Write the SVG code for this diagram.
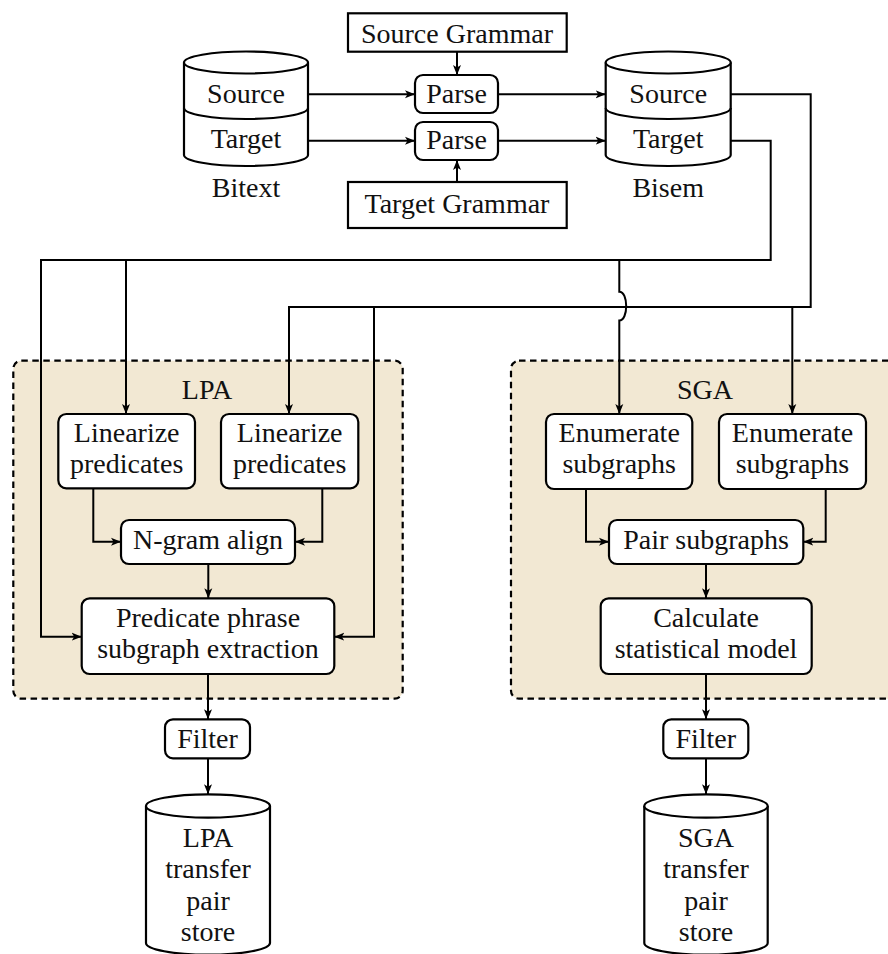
<svg xmlns="http://www.w3.org/2000/svg" width="888" height="954" viewBox="0 0 888 954">
<style>
.box{fill:#fff;stroke:#000;stroke-width:2.2}
.cont{fill:#f2e8d3;stroke:#000;stroke-width:2.2;stroke-dasharray:6.5,4.5}
.cyl{fill:#fff;stroke:#000;stroke-width:2.2}
.line{fill:none;stroke:#000;stroke-width:2}
.arr{marker-end:url(#ah)}
</style>
<defs>
<marker id="ah" markerWidth="11" markerHeight="9" refX="10" refY="4.5" orient="auto" markerUnits="userSpaceOnUse">
<path d="M0,0.5 L10,4.5 L0,8.5 L2.5,4.5 z" fill="#000"/>
</marker>
</defs>
<rect width="888" height="954" fill="#fff"/>
<g font-family="Liberation Serif" font-size="28" text-anchor="middle" fill="#111">

<g id="lpa-container">
<rect class="cont" x="13.3" y="360.7" width="389.4" height="338" rx="8"/>
<text x="207" y="399" style="font-family:'Liberation Serif'">LPA</text>
</g>
<g id="sga-container">
<rect class="cont" x="511" y="360.7" width="400" height="338" rx="8"/>
<text x="705" y="399" style="font-family:'Liberation Serif'">SGA</text>
</g>

<g id="connectors">
<path class="line arr" d="M307.7,94.3 H415"/>
<path class="line arr" d="M307.7,140.7 H415"/>
<path class="line arr" d="M457,52 V75"/>
<path class="line arr" d="M457,182 V160"/>
<path class="line arr" d="M498,94.3 H605.7"/>
<path class="line arr" d="M498,140.7 H605.7"/>
<path class="line arr" d="M730.7,140.7 H770.7 V260 H41 V636.7 H81.7"/>
<path class="line arr" d="M126,260 V414"/>
<path class="line arr" d="M619.3,260 V291.7 C628.5,291.7 628.5,320.5 619.3,320.5 V414"/>
<path class="line arr" d="M730.7,94.3 H810.7 V307 H289 V414"/>
<path class="line arr" d="M374,307 V636.7 H334.3"/>
<path class="line arr" d="M792.3,307 V414"/>
<path class="line arr" d="M93.3,488.3 V541.7 H121"/>
<path class="line arr" d="M322.3,488.3 V541.7 H295"/>
<path class="line arr" d="M208.3,564 V598.3"/>
<path class="line arr" d="M208,674 V719.3"/>
<path class="line arr" d="M208,758.3 V794.3"/>
<path class="line arr" d="M586,489 V541.7 H609"/>
<path class="line arr" d="M825.7,489 V541.7 H803.3"/>
<path class="line arr" d="M706,564 V598.3"/>
<path class="line arr" d="M706,674 V719.3"/>
<path class="line arr" d="M706,758.3 V794.3"/>
</g>

<g id="source-grammar">
<rect class="box" x="348" y="13.3" width="218.7" height="38.4"/>
<text x="457" y="43" style="font-family:'Liberation Serif'">Source Grammar</text>
</g>
<g id="target-grammar">
<rect class="box" x="348" y="182" width="218.7" height="46"/>
<text x="457" y="213" style="font-family:'Liberation Serif'">Target Grammar</text>
</g>
<g id="parse-source">
<rect class="box" x="415" y="75" width="83" height="38" rx="8"/>
<text x="456.5" y="103" style="font-family:'Liberation Serif'">Parse</text>
</g>
<g id="parse-target">
<rect class="box" x="415" y="122" width="83" height="38" rx="8"/>
<text x="456.5" y="149" style="font-family:'Liberation Serif'">Parse</text>
</g>

<g id="bitext">
<path class="cyl" d="M184,62.5 V155 A62,11 0 0 0 308,155 V62.5"/>
<ellipse class="cyl" cx="246" cy="62.5" rx="62" ry="11"/>
<path class="line" style="stroke-width:2.2" d="M184,108 A62,11 0 0 0 308,108"/>
<text x="246" y="103" style="font-family:'Liberation Serif'">Source</text>
<text x="246" y="148" style="font-family:'Liberation Serif'">Target</text>
<text x="246" y="197" style="font-family:'Liberation Serif'">Bitext</text>
</g>
<g id="bisem">
<path class="cyl" d="M605.7,62.5 V155 A62.5,11 0 0 0 730.7,155 V62.5"/>
<ellipse class="cyl" cx="668.2" cy="62.5" rx="62.5" ry="11"/>
<path class="line" style="stroke-width:2.2" d="M605.7,108 A62.5,11 0 0 0 730.7,108"/>
<text x="668.2" y="103" style="font-family:'Liberation Serif'">Source</text>
<text x="668.2" y="148" style="font-family:'Liberation Serif'">Target</text>
<text x="668.2" y="197" style="font-family:'Liberation Serif'">Bisem</text>
</g>

<g id="linearize-1">
<rect class="box" x="58.3" y="414" width="136.7" height="74.3" rx="8"/>
<text x="126.7" y="441.5" style="font-family:'Liberation Serif'">Linearize</text>
<text x="126.7" y="473" style="font-family:'Liberation Serif'">predicates</text>
</g>
<g id="linearize-2">
<rect class="box" x="221" y="414" width="137.3" height="74.3" rx="8"/>
<text x="289.7" y="441.5" style="font-family:'Liberation Serif'">Linearize</text>
<text x="289.7" y="473" style="font-family:'Liberation Serif'">predicates</text>
</g>
<g id="ngram-align">
<rect class="box" x="121" y="520" width="174" height="44" rx="8"/>
<text x="208" y="549" style="font-family:'Liberation Serif'">N-gram align</text>
</g>
<g id="predicate-extraction">
<rect class="box" x="81.7" y="598.3" width="252.6" height="75.7" rx="8"/>
<text x="208" y="627" style="font-family:'Liberation Serif'">Predicate phrase</text>
<text x="208" y="658" style="font-family:'Liberation Serif'">subgraph extraction</text>
</g>
<g id="lpa-filter">
<rect class="box" x="165" y="719.3" width="85" height="39" rx="8"/>
<text x="207.5" y="747.5" style="font-family:'Liberation Serif'">Filter</text>
</g>
<g id="lpa-store">
<path class="cyl" d="M146,806 V943 A62,11.7 0 0 0 270,943 V806"/>
<ellipse class="cyl" cx="208" cy="806" rx="62" ry="11.7"/>
<text x="208" y="847" style="font-family:'Liberation Serif'">LPA</text>
<text x="208" y="878" style="font-family:'Liberation Serif'">transfer</text>
<text x="208" y="909.5" style="font-family:'Liberation Serif'">pair</text>
<text x="208" y="941" style="font-family:'Liberation Serif'">store</text>
</g>

<g id="enumerate-1">
<rect class="box" x="546" y="414" width="146.3" height="75" rx="8"/>
<text x="619.2" y="441.5" style="font-family:'Liberation Serif'">Enumerate</text>
<text x="619.2" y="473" style="font-family:'Liberation Serif'">subgraphs</text>
</g>
<g id="enumerate-2">
<rect class="box" x="719" y="414" width="147" height="75" rx="8"/>
<text x="792.5" y="441.5" style="font-family:'Liberation Serif'">Enumerate</text>
<text x="792.5" y="473" style="font-family:'Liberation Serif'">subgraphs</text>
</g>
<g id="pair-subgraphs">
<rect class="box" x="609" y="520" width="194.3" height="44" rx="8"/>
<text x="706" y="549" style="font-family:'Liberation Serif'">Pair subgraphs</text>
</g>
<g id="calculate-model">
<rect class="box" x="600.7" y="598.3" width="211" height="75.7" rx="8"/>
<text x="706" y="627" style="font-family:'Liberation Serif'">Calculate</text>
<text x="706" y="658" style="font-family:'Liberation Serif'">statistical model</text>
</g>
<g id="sga-filter">
<rect class="box" x="663.3" y="719.3" width="85" height="39" rx="8"/>
<text x="705.8" y="747.5" style="font-family:'Liberation Serif'">Filter</text>
</g>
<g id="sga-store">
<path class="cyl" d="M644.3,806 V943 A61.7,11.7 0 0 0 767.7,943 V806"/>
<ellipse class="cyl" cx="706" cy="806" rx="61.7" ry="11.7"/>
<text x="706" y="847" style="font-family:'Liberation Serif'">SGA</text>
<text x="706" y="878" style="font-family:'Liberation Serif'">transfer</text>
<text x="706" y="909.5" style="font-family:'Liberation Serif'">pair</text>
<text x="706" y="941" style="font-family:'Liberation Serif'">store</text>
</g>
</g>
</svg>
